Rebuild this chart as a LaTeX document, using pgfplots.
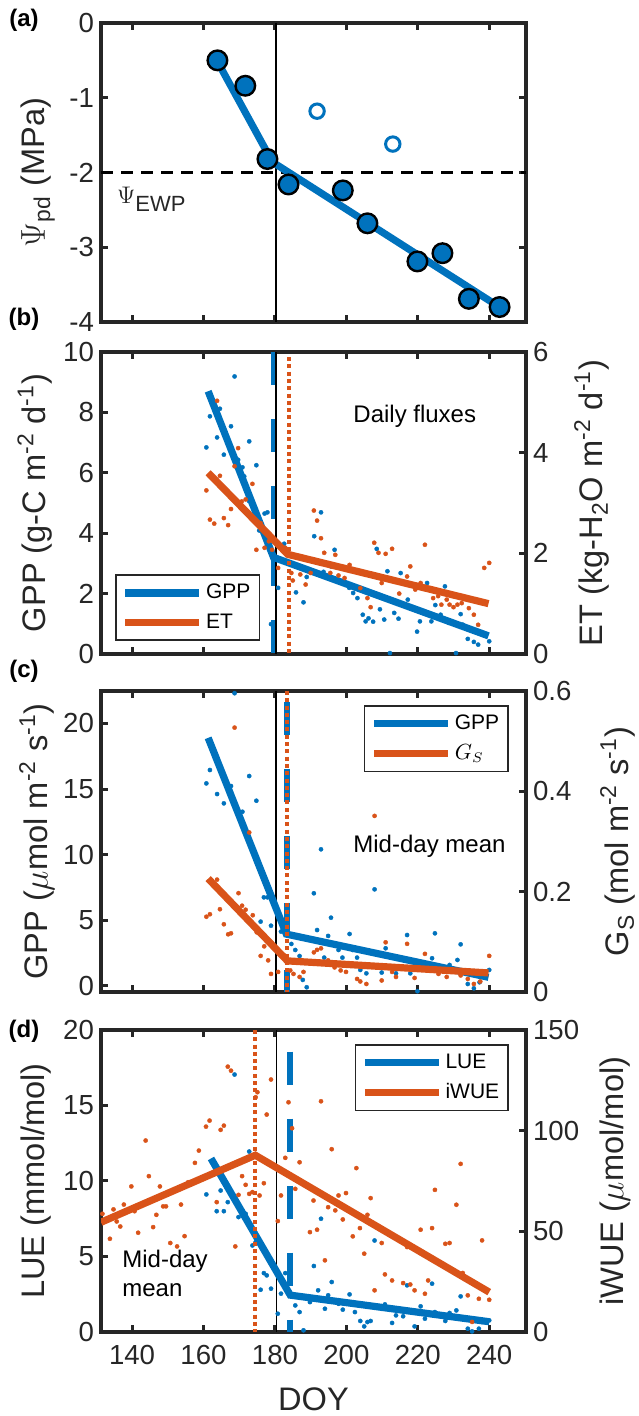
\documentclass[border=0pt]{standalone}
\usepackage{fontspec}
\setmainfont{Liberation Sans}
\usepackage{pgfplots}
\pgfplotsset{compat=1.18}
\definecolor{mblue}{HTML}{0072BD}
\definecolor{morange}{HTML}{D95319}
\definecolor{axgray}{HTML}{262626}
\newcommand{\tickfont}{\fontsize{13.8}{13.8}\selectfont}
\newcommand{\labfont}{\fontsize{16.3}{16.3}\selectfont}
\pgfplotsset{
  base/.style={
    scale only axis, width=212.5pt,
    xmin=131.3, xmax=250.3,
    xtick={140,160,180,200,220,240},
    major tick length=3.5pt,
    every tick/.style={axgray, line width=1.5pt},
    axis line style={axgray, line width=1.9pt},
    tick label style={font=\tickfont, text=axgray},
    xticklabel style={yshift=-3pt},
    label style={font=\labfont, text=axgray},
    /pgf/number format/assume math mode=true,
    tick align=inside,
  },
  leftax/.style={base, ytick pos=left},
  rightax/.style={base, axis x line=none, axis y line*=right, ytick pos=right, tick align=inside},
  fitline/.style={line width=3.6pt},
  dots/.style={only marks, mark=*, mark size=1.05pt, mark options={line width=0.2pt}},
  bdash/.style={mblue, line width=3pt, dash pattern=on 16.5pt off 17pt},
  odot/.style={morange, line width=2pt, dash pattern=on 2pt off 1.65pt},
  vline/.style={black, line width=0.6pt},
  leg/.style={
    legend style={draw=axgray, line width=0.8pt, fill=white,
      font=\fontsize{10.5}{10.5}\selectfont, inner xsep=3pt, inner ysep=3pt,
      nodes={inner sep=1.5pt}, row sep=3pt},
    legend image code/.code={\draw[##1] (0pt,0pt) -- (37pt,0pt);},
    legend cell align=left,
  },
}
\begin{document}
\begin{tikzpicture}
\path[use as bounding box] (0,0) rectangle (319pt,708pt);

% ---------------- panel (a)
\begin{axis}[base, at={(50.5pt,547pt)}, anchor=south west, height=149.5pt,
  ymin=-4, ymax=0, ytick={-4,-3,-2,-1,0}, yticklabels={-4,-3,-2,-1,0},
  xticklabels={},
  ylabel={{\fontsize{18}{18}\selectfont$\Psi$}\textsubscript{pd} (MPa)},
  ylabel style={at={(axis description cs:-0.148,0.5)}, anchor=center}]
\addplot[vline] coordinates {(180.3,-4) (180.3,0)};
\addplot[black, line width=1.3pt, dash pattern=on 6pt off 4pt] coordinates {(131.3,-2) (250.3,-2)};
\addplot[mblue, fitline] coordinates {(163.5,-0.48) (179.3,-1.86) (243.2,-3.81)};
\addplot[only marks, mark=*, mark size=4.9pt, mark options={fill=mblue, draw=black, line width=1.2pt}]
  coordinates {(163.9,-0.50) (171.7,-0.84) (177.9,-1.82) (183.8,-2.16) (199.0,-2.24)
  (205.9,-2.68) (219.9,-3.19) (226.9,-3.08) (234.3,-3.69) (242.9,-3.80)};
\addplot[only marks, mark=o, mark size=3.6pt, mark options={draw=mblue, line width=1.5pt}]
  coordinates {(191.8,-1.18) (213.0,-1.62)};
\node[anchor=base west, text=axgray, inner sep=0pt] at (axis cs:135.7,-2.42)
  {\fontsize{12.5}{12.5}\selectfont$\Psi$\raisebox{-0.55ex}{\fontsize{11}{11}\selectfont EWP}};
\end{axis}

% ---------------- panel (b)
\begin{axis}[leftax, at={(50.5pt,381pt)}, anchor=south west, height=151pt,
  ymin=0, ymax=10, ytick={0,2,4,6,8,10}, xticklabels={},
  ylabel={GPP (g-C m\textsuperscript{-2} d\textsuperscript{-1})},
  ylabel style={at={(axis description cs:-0.155,0.5)}, anchor=center}]
\addplot[dots, mblue] coordinates {(168.7,9.19)(160.8,6.84)(161.8,7.87)(164.6,8.12)(163.8,7.17)(165.7,6.60)(167.7,7.54)(169.7,6.43)(172.8,7.04)(170.9,6.18)(171.4,5.88)(174.8,6.25)(172.8,5.06)(175.6,4.09)(177.1,4.65)(177.9,4.69)(182.6,3.65)(178.9,0.99)(180.9,2.19)(185.9,2.04)(188.0,1.71)(188.9,2.55)(191.0,3.90)(192.9,4.69)(192.1,2.66)(193.6,2.72)(196.7,3.45)(195.7,2.90)(199.4,2.41)(200.8,2.19)(201.9,2.02)(203.1,1.85)(204.6,1.30)(205.4,1.08)(206.2,1.18)(207.5,1.07)(208.5,3.48)(209.4,1.48)(210.6,1.14)(211.5,2.74)(213.4,1.36)(214.6,1.17)(215.2,2.68)(217.2,1.80)(219.8,0.74)(220.6,1.08)(222.6,2.35)(223.8,1.08)(224.9,1.62)(226.4,1.30)(227.6,2.24)(228.7,1.03)(230.7,0.03)(232.0,1.32)(234.0,0.50)(235.7,0.40)(236.9,0.31)(240.0,0.42)(212.2,0.03)(232.6,0.97)};
\addplot[bdash] coordinates {(179.7,10) (179.7,0)};
\addplot[vline] coordinates {(180.3,0) (180.3,10)};
\addplot[mblue, fitline] coordinates {(161.3,8.70) (179.6,3.20) (239.8,0.60)};
\node[anchor=base west, text=black, font=\fontsize{12}{12}\selectfont] at (axis cs:200,7.66) {Daily fluxes};
\end{axis}
\begin{axis}[rightax, leg, at={(50.5pt,381pt)}, anchor=south west, height=151pt,
  ymin=0, ymax=6, ytick={0,2,4,6},
  ylabel={ET (kg-H\textsubscript{2}O m\textsuperscript{-2} d\textsuperscript{-1})},
  ylabel style={at={(axis description cs:1.155,0.5)}, anchor=center},
  legend style={at={(axis description cs:0.033,0.043)}, anchor=south west}]
\addlegendimage{mblue, fitline}
\addlegendentry{GPP}
\addplot[dots, morange, forget plot] coordinates {(163.8,5.03)(160.8,3.25)(161.8,2.67)(163.0,2.59)(164.6,3.54)(165.7,2.70)(166.9,2.56)(167.7,2.88)(168.7,3.73)(169.7,4.09)(170.7,3.03)(171.8,3.07)(173.7,3.38)(174.8,2.07)(176.0,2.60)(177.1,2.11)(178.3,2.24)(179.2,2.07)(180.9,1.71)(182.9,2.11)(184.6,1.61)(185.0,1.46)(187.1,1.58)(187.7,1.93)(188.6,1.38)(190.0,1.61)(190.9,2.85)(191.8,2.65)(192.9,2.30)(193.8,2.01)(195.5,1.61)(196.9,1.97)(197.8,1.56)(199.5,1.51)(200.9,1.77)(202.4,1.64)(203.9,1.31)(205.9,1.11)(206.8,0.93)(207.8,2.21)(209.0,2.01)(211.0,1.99)(212.8,2.09)(209.9,1.41)(214.8,1.20)(217.0,1.54)(217.9,1.74)(219.3,1.28)(220.8,1.41)(222.0,2.17)(224.3,1.11)(225.7,1.15)(226.6,0.98)(228.1,1.08)(228.9,0.98)(230.0,0.93)(231.1,0.98)(232.3,1.01)(234.3,0.91)(235.7,0.78)(236.9,0.58)(238.6,1.71)(240.0,1.81)};
\addplot[odot, forget plot] coordinates {(183.8,5.9) (183.8,0)};
\addplot[morange, fitline] coordinates {(161.3,3.60) (183.6,1.98) (239.8,1.00)};
\addlegendentry{ET}
\end{axis}

% ---------------- panel (c)
\begin{axis}[leftax, at={(50.5pt,212pt)}, anchor=south west, height=150.5pt,
  ymin=-0.46, ymax=22.47, ytick={0,5,10,15,20}, xticklabels={},
  ylabel={GPP ($\mu$mol m\textsuperscript{-2} s\textsuperscript{-1})},
  ylabel style={at={(axis description cs:-0.151,0.5)}, anchor=center}]
\addplot[dots, mblue] coordinates {(168.7,22.3)(160.8,15.43)(161.8,16.45)(163.8,14.62)(165.7,13.91)(167.7,15.23)(170.9,13.27)(172.8,15.99)(174.8,14.11)(176.9,6.75)(177.9,6.75)(176.0,4.90)(178.9,4.59)(181.7,4.14)(182.9,4.01)(184.6,3.20)(185.7,2.74)(186.9,2.28)(187.8,0.46)(188.9,-0.10)(190.9,7.06)(191.8,4.26)(192.9,10.41)(193.8,2.16)(194.9,3.81)(195.7,5.20)(197.8,2.74)(198.9,2.16)(200.9,3.96)(201.8,2.74)(203.0,2.16)(203.9,1.22)(205.6,0.96)(207.9,7.36)(209.9,1.02)(211.0,2.87)(213.9,0.96)(217.0,3.88)(217.9,0.96)(219.9,-0.40)(222.0,1.73)(224.8,4.01)(224.0,2.11)(227.1,1.35)(228.9,1.60)(231.1,1.98)(232.0,3.17)(234.0,0.15)(235.7,-0.18)(240.0,1.22)(237.3,0.28)};
\addplot[vline] coordinates {(180.3,-0.46) (180.3,22.47)};
\addplot[bdash] coordinates {(183.4,21.65) (183.4,-0.46)};
\addplot[mblue, fitline] coordinates {(161.3,18.9) (183.2,3.95) (239.8,0.66)};
\node[anchor=base west, text=black, font=\fontsize{12}{12}\selectfont] at (axis cs:200,10.2) {Mid-day mean};
\end{axis}
\begin{axis}[rightax, leg, at={(50.5pt,212pt)}, anchor=south west, height=150.5pt,
  ymin=0, ymax=0.6, ytick={0,0.2,0.4,0.6},
  ylabel={G\textsubscript{S} (mol m\textsuperscript{-2} s\textsuperscript{-1})},
  ylabel style={at={(axis description cs:1.216,0.5)}, anchor=center},
  legend style={at={(axis description cs:0.96,0.953)}, anchor=north east}]
\addlegendimage{mblue, fitline}
\addlegendentry{GPP}
\addplot[dots, morange, forget plot] coordinates {(168.7,0.527)(160.8,0.150)(161.8,0.155)(163.8,0.224)(164.6,0.165)(165.7,0.135)(166.9,0.115)(167.7,0.117)(169.8,0.197)(170.8,0.172)(171.8,0.164)(172.8,0.318)(173.8,0.153)(174.9,0.119)(176.0,0.072)(177.0,0.091)(178.1,0.063)(178.9,0.036)(180.9,0.040)(182.9,0.072)(184.3,0.043)(185.2,0.036)(186.9,0.030)(188.0,0.040)(190.9,0.079)(191.8,0.084)(192.9,0.087)(194.9,0.063)(196.7,0.049)(198.4,0.043)(199.9,0.040)(203.0,0.026)(203.9,0.021)(205.6,0.016)(207.9,0.351)(209.9,0.023)(211.0,0.099)(212.8,0.040)(213.9,0.030)(217.0,0.096)(219.1,0.028)(222.0,0.076)(224.0,0.043)(225.8,0.036)(228.1,0.030)(230.0,0.043)(232.0,0.033)(234.0,0.026)(235.7,0.016)(237.5,0.021)(240.0,0.072)};
\addplot[odot, forget plot] coordinates {(183.4,0.6) (183.4,0)};
\addplot[morange, fitline] coordinates {(161.3,0.226) (183.5,0.062) (239.8,0.038)};
\addlegendentry{$G_S$}
\end{axis}

% ---------------- panel (d)
\begin{axis}[leftax, at={(50.5pt,42pt)}, anchor=south west, height=151pt,
  ymin=0, ymax=20, ytick={0,5,10,15,20},
  xlabel={DOY},
  xlabel style={at={(axis description cs:0.5,-0.222)}, anchor=center},
  ylabel={LUE (mmol/mol)},
  ylabel style={at={(axis description cs:-0.153,0.5)}, anchor=center}]
\addplot[dots, mblue] coordinates {(168.7,17.05)(160.8,9.11)(163.7,8.00)(165.7,8.00)(164.8,9.37)(166.8,8.60)(168.7,8.82)(169.8,7.61)(170.8,8.09)(171.8,7.83)(172.8,11.95)(173.7,5.73)(174.6,5.95)(176.0,2.80)(176.9,3.90)(177.7,3.75)(178.9,2.87)(180.8,1.21)(181.7,2.54)(182.9,3.90)(185.7,1.76)(186.9,1.32)(188.0,0.11)(189.8,1.98)(190.9,4.37)(192.1,2.76)(192.9,7.50)(194.0,1.54)(194.9,2.43)(195.9,3.31)(197.8,1.87)(199.0,1.48)(200.9,2.49)(202.4,1.32)(203.9,0.73)(205.0,0.37)(205.9,0.66)(206.8,0.73)(207.9,6.06)(209.9,1.54)(210.8,1.83)(212.8,0.60)(213.9,1.10)(215.9,1.04)(217.0,3.09)(219.1,0.37)(220.8,1.70)(222.0,0.88)(224.0,3.20)(224.8,1.32)(227.7,0.73)(228.9,1.26)(230.8,1.43)(232.0,2.36)(234.0,0.22)(235.2,0.04)(237.1,0.22)(238.0,0.66)(240.0,0.77)};
\addplot[vline] coordinates {(180.4,0) (180.4,20)};
\addplot[bdash] coordinates {(184.1,18.56) (184.1,0)};
\addplot[mblue, fitline] coordinates {(162.1,11.49) (184.3,2.44) (240.0,0.68)};
\node[anchor=base west, text=black, font=\fontsize{12}{12}\selectfont] at (axis cs:135.3,4.24) {Mid-day};
\node[anchor=base west, text=black, font=\fontsize{12}{12}\selectfont] at (axis cs:135.3,2.33) {mean};
\end{axis}
\begin{axis}[rightax, leg, at={(50.5pt,42pt)}, anchor=south west, height=151pt,
  ymin=0, ymax=150, ytick={0,50,100,150},
  ylabel={iWUE ($\mu$mol/mol)},
  ylabel style={at={(axis description cs:1.209,0.5)}, anchor=center},
  legend style={at={(axis description cs:0.96,0.953)}, anchor=north east}]
\addlegendimage{mblue, fitline}
\addlegendentry{LUE}
\addplot[dots, morange, forget plot] coordinates {(131.7,58.7)(133.8,46.3)(134.8,60.9)(135.7,54.9)(136.7,52.4)(137.7,63.3)(139.8,72.3)(140.7,60.0)(141.7,49.3)(143.8,95.1)(144.7,77.4)(145.9,52.1)(146.8,58.2)(147.8,72.3)(148.7,62.4)(149.5,62.4)(150.7,44.2)(152.6,42.5)(153.7,63.3)(154.7,47.6)(155.7,74.4)(157.6,84.0)(158.7,90.1)(160.7,102.0)(161.7,105.0)(163.7,64.5)(164.8,100.4)(165.7,102.5)(166.8,131.8)(167.7,129.8)(168.9,42.5)(169.8,68.1)(170.8,77.4)(171.8,73.1)(172.8,68.6)(173.7,69.5)(174.6,116.6)(175.1,119.1)(175.7,67.8)(176.9,73.9)(177.7,108.0)(178.9,125.4)(180.8,55.1)(181.7,67.8)(182.9,86.5)(183.8,114.1)(184.8,101.2)(185.7,71.1)(186.9,84.3)(189.8,49.6)(190.8,65.3)(191.8,50.8)(192.9,114.6)(194.0,35.6)(194.9,62.0)(195.9,90.8)(196.9,60.4)(197.8,67.8)(199.0,55.9)(199.9,69.0)(201.8,47.5)(202.8,81.4)(203.8,51.6)(205.0,38.9)(205.9,58.2)(206.8,66.5)(207.9,20.7)(209.9,44.2)(210.8,28.6)(212.8,25.6)(215.9,24.3)(217.0,42.2)(217.9,23.6)(219.1,20.7)(220.8,50.8)(222.0,19.0)(222.9,25.6)(224.0,51.6)(224.8,70.6)(227.7,43.8)(228.9,44.2)(230.8,63.2)(232.0,83.5)(232.6,29.3)(234.0,18.2)(235.2,5.0)(237.1,16.5)(238.0,45.5)(240.0,16.0)};
\addplot[odot, forget plot] coordinates {(174.5,150) (174.5,0)};
\addplot[morange, fitline] coordinates {(131.3,54.5) (174.5,87.8) (240.0,19.8)};
\addlegendentry{iWUE}
\end{axis}

% panel letters
\node[font=\bfseries\fontsize{12}{12}\selectfont, text=black] at (12pt,698pt) {(a)};
\node[font=\bfseries\fontsize{12}{12}\selectfont, text=black] at (12pt,548.5pt) {(b)};
\node[font=\bfseries\fontsize{12}{12}\selectfont, text=black] at (12pt,372.5pt) {(c)};
\node[font=\bfseries\fontsize{12}{12}\selectfont, text=black] at (12pt,192.5pt) {(d)};
\end{tikzpicture}
\end{document}
